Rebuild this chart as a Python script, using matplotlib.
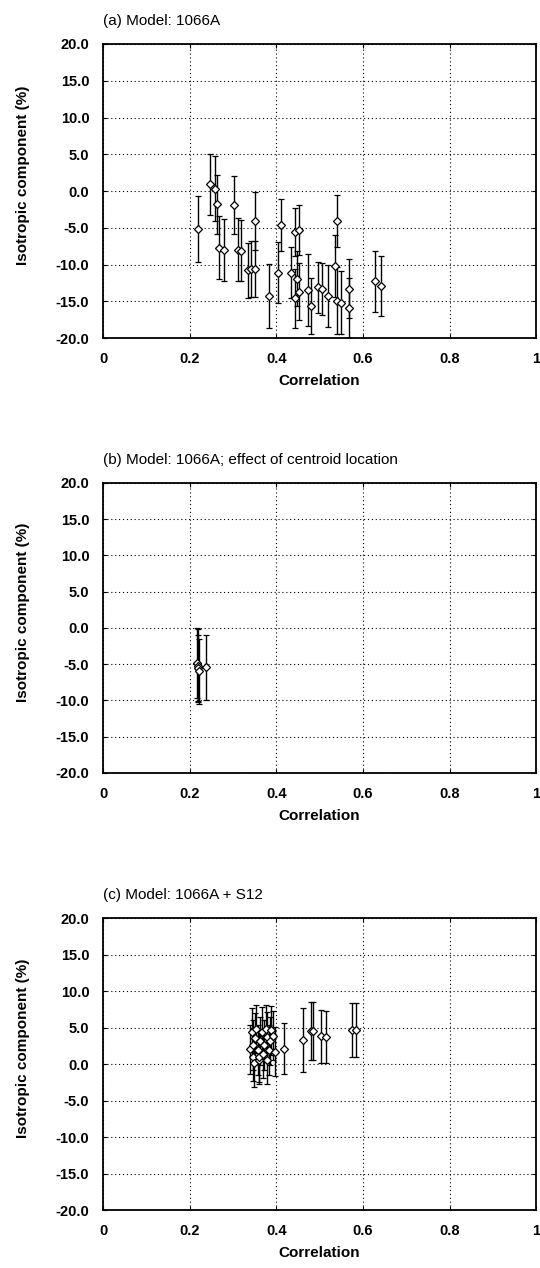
#!/usr/bin/env python
# -*- coding: utf-8 -*-
import matplotlib
matplotlib.use('Agg')
import matplotlib.pyplot as plt

# (a) Model: 1066A
a_corr = [0.219, 0.247, 0.258, 0.262, 0.268, 0.278, 0.303, 0.312, 0.318, 0.334,
          0.342, 0.350, 0.350, 0.382, 0.403, 0.411, 0.433, 0.443, 0.452, 0.443,
          0.447, 0.452, 0.474, 0.481, 0.495, 0.505, 0.520, 0.536, 0.539, 0.539,
          0.550, 0.567, 0.568, 0.627, 0.642]
a_iso = [-5.2, 0.9, 0.3, -1.8, -7.7, -8.0, -1.9, -8.0, -8.1, -10.8,
         -10.6, -10.6, -4.1, -14.3, -11.1, -4.6, -11.1, -5.6, -5.3, -14.6,
         -11.9, -13.7, -13.4, -15.6, -13.1, -13.3, -14.3, -10.2, -4.1, -14.9,
         -15.2, -13.3, -15.9, -12.3, -12.9]
a_err = [4.5, 4.2, 4.4, 4.0, 4.3, 4.2, 3.9, 4.3, 4.2, 3.7,
         3.8, 3.8, 3.9, 4.4, 4.2, 3.5, 3.5, 3.3, 3.4, 4.0,
         3.8, 3.9, 4.9, 3.8, 3.5, 3.5, 4.2, 4.2, 3.5, 4.6,
         4.3, 4.0, 4.1, 4.1, 4.1]

# (b) Model: 1066A; effect of centroid location
b_corr = [0.217, 0.218, 0.219, 0.221, 0.238]
b_iso = [-4.8, -5.2, -5.5, -6.0, -5.4]
b_err = [4.8, 5.0, 4.6, 4.5, 4.5]

# (c) Model: 1066A + S12
c_corr = [0.338, 0.343, 0.345, 0.347, 0.349, 0.350, 0.354, 0.357, 0.359, 0.361,
          0.363, 0.367, 0.369, 0.372, 0.375, 0.378, 0.378, 0.382, 0.386, 0.388,
          0.392, 0.397, 0.418, 0.462, 0.479, 0.485, 0.504, 0.515, 0.575, 0.583]
c_iso = [2.0, 4.4, 1.0, 2.6, 0.1, 3.6, 4.8, 1.9, 0.5, 1.0,
         3.2, 4.4, 1.4, 2.6, 4.8, 3.7, 0.5, 1.9, 3.2, 4.6,
         3.9, 1.7, 2.1, 3.3, 4.5, 4.5, 3.8, 3.7, 4.6, 4.6]
c_err = [3.4, 3.3, 3.3, 3.4, 3.3, 3.4, 3.3, 3.4, 3.3, 3.4,
         3.3, 3.4, 3.3, 3.4, 3.3, 3.4, 3.3, 3.4, 3.3, 3.4,
         3.3, 3.4, 3.5, 4.4, 4.0, 4.0, 3.6, 3.6, 3.7, 3.7]

titles = ['(a) Model: 1066A',
          '(b) Model: 1066A; effect of centroid location',
          '(c) Model: 1066A + S12']
x_ticks = [0, 0.2, 0.4, 0.6, 0.8, 1]
x_labels = ['0', '0.2', '0.4', '0.6', '0.8', '1']
y_ticks = [20, 15, 10, 5, 0, -5, -10, -15, -20]
y_labels = ['20.0', '15.0', '10.0', '5.0', '0.0', '-5.0', '-10.0', '-15.0', '-20.0']

if __name__ == '__main__':
    plt.rcParams['font.family'] = ['Liberation Sans', 'DejaVu Sans']

    fig = plt.figure(figsize=(5.4, 12.68), dpi=100)
    # left, bottom, width, height for the three stacked panels
    boxes = [[0.191, 0.7334, 0.802, 0.2319],
             [0.191, 0.3904, 0.802, 0.2287],
             [0.191, 0.0457, 0.802, 0.2303]]
    panels = [(a_corr, a_iso, a_err), (b_corr, b_iso, b_err), (c_corr, c_iso, c_err)]

    for box, title, (xs, ys, es) in zip(boxes, titles, panels):
        ax = fig.add_axes(box)
        ax.errorbar(xs, ys, yerr=es, fmt='D', ms=4.5, mfc='white', mec='black',
                    mew=0.9, ecolor='black', elinewidth=1.0, capsize=2.5,
                    capthick=1.0, zorder=3)
        ax.set_xlim(0, 1)
        ax.set_ylim(-20, 20)
        ax.set_xticks(x_ticks)
        ax.set_xticklabels(x_labels, fontsize=10.5, fontweight='bold')
        ax.set_yticks(y_ticks)
        ax.set_yticklabels(y_labels, fontsize=10.5, fontweight='bold')
        ax.tick_params(direction='in', length=3, width=0.8, top=True, right=True,
                       pad=10)
        ax.grid(True, color='black', linestyle=(0, (1, 2.5)), linewidth=0.8)
        for s in ax.spines.values():
            s.set_linewidth(1.3)
        ax.set_title(title, loc='left', fontsize=11, pad=14)
        ax.set_xlabel('Correlation', fontsize=11, fontweight='bold', labelpad=6)
        ax.set_ylabel('Isotropic component (%)', fontsize=11, fontweight='bold')
        ax.yaxis.set_label_coords(-0.17, 0.555)

    plt.savefig('out.png', dpi=100)
